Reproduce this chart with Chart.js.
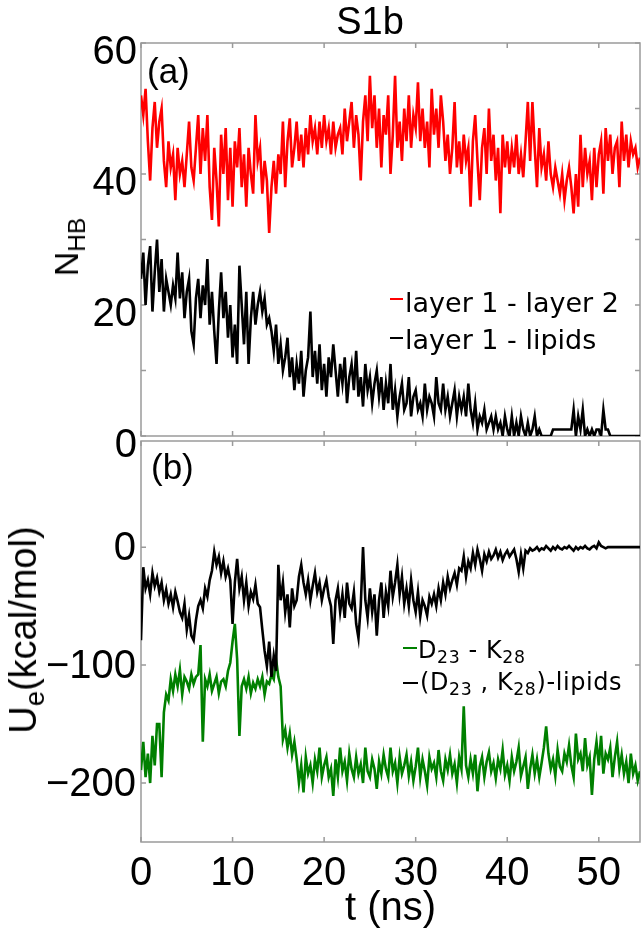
<!DOCTYPE html>
<html>
<head>
<meta charset="utf-8">
<script src="https://cdn.jsdelivr.net/npm/chart.js@4.4.1/dist/chart.umd.min.js"></script>
<style>
  html, body { margin: 0; padding: 0; background: #fff; }
  #fig { position: relative; width: 641px; height: 931px; overflow: hidden; font-family: "Liberation Sans", Arial, sans-serif; color: #000; }
  #fig canvas { position: absolute; left: 0; }
  .txt { position: absolute; line-height: 1; white-space: nowrap; }
  .leg { position: absolute; line-height: 1; white-space: nowrap; font-family: "DejaVu Sans", sans-serif; }
  .dash { position: absolute; height: 2px; }
  sub { font-size: 0.72em; vertical-align: -0.3em; line-height: 0; }
</style>
</head>
<body>
<div id="fig">
  <canvas id="topChart" width="641" height="470" style="top:0"></canvas>
  <canvas id="bottomChart" width="641" height="491" style="top:440px"></canvas>

  <div class="txt" style="left:370px;top:2px;font-size:38px;transform:translateX(-50%)">S1b</div>
  <div class="txt" style="left:147px;top:53px;font-size:35px">(a)</div>
  <div class="txt" style="left:151px;top:449px;font-size:35px">(b)</div>
  <div class="txt" style="left:66px;top:247px;font-size:34px;transform:translate(-50%,-50%) rotate(-90deg)">N<sub>HB</sub></div>
  <div class="txt" style="left:23px;top:630px;font-size:38px;transform:translate(-50%,-50%) rotate(-90deg)">U<sub>e</sub>(kcal/mol)</div>

  <div class="dash" style="left:390px;top:298px;width:13px;background:#ff0000"></div>
  <div class="leg" style="left:405px;top:289px;font-size:27px">layer 1 - layer 2</div>
  <div class="dash" style="left:390px;top:337px;width:13px;background:#000"></div>
  <div class="leg" style="left:405px;top:326px;font-size:27px">layer 1 - lipids</div>

  <div class="dash" style="left:403px;top:647px;width:14px;background:#008000"></div>
  <div class="leg" style="left:418px;top:638px;font-size:24px;letter-spacing:0.6px">D<sub>23</sub> - K<sub>28</sub></div>
  <div class="dash" style="left:403px;top:682px;width:15px;background:#000"></div>
  <div class="leg" style="left:420px;top:670px;font-size:24px;letter-spacing:0.6px">(D<sub>23</sub> , K<sub>28</sub>)-lipids</div>
</div>

<script>
// time axis (ns), one sample every 0.25 ns
const timeNs = [
  0, 0.25, 0.5, 0.75, 1, 1.25, 1.5, 1.75, 2, 2.25, 2.5, 2.75, 3, 3.25, 3.5, 3.75, 4, 4.25, 4.5, 4.75,
  5, 5.25, 5.5, 5.75, 6, 6.25, 6.5, 6.75, 7, 7.25, 7.5, 7.75, 8, 8.25, 8.5, 8.75, 9, 9.25, 9.5, 9.75,
  10, 10.25, 10.5, 10.75, 11, 11.25, 11.5, 11.75, 12, 12.25, 12.5, 12.75, 13, 13.25, 13.5, 13.75, 14, 14.25, 14.5, 14.75,
  15, 15.25, 15.5, 15.75, 16, 16.25, 16.5, 16.75, 17, 17.25, 17.5, 17.75, 18, 18.25, 18.5, 18.75, 19, 19.25, 19.5, 19.75,
  20, 20.25, 20.5, 20.75, 21, 21.25, 21.5, 21.75, 22, 22.25, 22.5, 22.75, 23, 23.25, 23.5, 23.75, 24, 24.25, 24.5, 24.75,
  25, 25.25, 25.5, 25.75, 26, 26.25, 26.5, 26.75, 27, 27.25, 27.5, 27.75, 28, 28.25, 28.5, 28.75, 29, 29.25, 29.5, 29.75,
  30, 30.25, 30.5, 30.75, 31, 31.25, 31.5, 31.75, 32, 32.25, 32.5, 32.75, 33, 33.25, 33.5, 33.75, 34, 34.25, 34.5, 34.75,
  35, 35.25, 35.5, 35.75, 36, 36.25, 36.5, 36.75, 37, 37.25, 37.5, 37.75, 38, 38.25, 38.5, 38.75, 39, 39.25, 39.5, 39.75,
  40, 40.25, 40.5, 40.75, 41, 41.25, 41.5, 41.75, 42, 42.25, 42.5, 42.75, 43, 43.25, 43.5, 43.75, 44, 44.25, 44.5, 44.75,
  45, 45.25, 45.5, 45.75, 46, 46.25, 46.5, 46.75, 47, 47.25, 47.5, 47.75, 48, 48.25, 48.5, 48.75, 49, 49.25, 49.5, 49.75,
  50, 50.25, 50.5, 50.75, 51, 51.25, 51.5, 51.75, 52, 52.25, 52.5, 52.75, 53, 53.25, 53.5, 53.75, 54, 54.25, 54.5
];

// (a) hydrogen bonds, layer 1 - layer 2
const hbLayer12 = [
  52, 49, 53, 45, 39, 47, 51, 44, 48, 50, 42, 38, 45, 41, 43, 36, 44, 40, 42, 38,
  43, 48, 41, 39, 44, 49, 40, 47, 42, 49, 38, 33, 44, 39, 32, 46, 40, 47, 36, 44,
  35, 45, 41, 47, 38, 43, 35, 44, 40, 37, 49, 42, 44, 37, 42, 39, 31, 38, 42, 37,
  43, 40, 48, 38, 45, 48.5, 41, 44, 48, 42, 46, 41, 47, 43, 49, 45, 47, 43, 48, 44,
  49, 45, 47, 43, 48, 44, 46, 47, 43, 50, 45, 48, 51, 44, 49, 46, 39, 48, 52, 45,
  55, 47, 52, 44, 50, 41, 49, 46, 52, 40, 46, 55, 44, 48, 42, 50, 45, 52, 44, 49,
  47, 54, 45, 50, 44, 48, 41, 53, 46, 50, 44, 52, 48, 42, 46, 40, 44, 51, 41, 45,
  40, 46, 42, 44, 35, 45, 49, 42, 36, 44, 47, 40, 50, 42, 46, 39, 44, 34, 46, 41,
  45, 40, 44, 41, 46, 40, 43, 39.5, 45, 51, 42, 51, 44, 38, 47, 41, 43, 39, 45, 40,
  38, 41, 39, 37, 40, 36, 39, 41, 38, 34, 40, 35, 46, 38, 44, 40, 42, 36, 44, 38,
  43, 45, 37, 47, 42, 46, 40, 44, 45, 38, 48, 42, 46, 41, 45, 43, 44, 41, 42.5
];

// (a) hydrogen bonds, layer 1 - lipids
const hbLayer1Lipids = [
  24, 28, 20, 26, 29, 19, 25, 30, 22, 27, 19, 24, 22, 20, 23, 21, 28, 21, 25, 18,
  22, 24, 16, 14, 21, 24, 18, 23, 20, 27, 17, 22, 16, 11, 19, 25, 18, 22, 15, 20,
  12, 17, 11, 26, 20, 14, 22, 11, 18, 22, 17, 20, 22, 19, 21, 17, 18, 16, 13, 17,
  11, 14, 10, 12, 15, 9, 12, 7, 11, 8, 13, 6, 10, 12, 19, 9, 13, 8, 14, 7,
  11, 6, 12, 9, 14, 10, 6, 11, 8, 12, 5, 9, 11, 7, 13, 6, 9, 4.5, 11, 7,
  9, 5, 8, 10, 6, 9, 4, 8, 5, 11, 4, 7, 3, 6, 8, 4, 5, 9, 3, 6,
  7, 4, 5, 3, 8, 4, 6, 5, 3, 9, 5, 4, 8, 4, 6, 3, 5, 7, 3, 6,
  4, 6, 3, 8, 4, 2, 5, 1, 3, 2, 4, 1, 2, 3, 1, 3, 1, 2, 0, 3,
  1, 0, 3, 0, 2, 0, 3, 1, 0, 2, 0, 1, 3, 0, 1, 0, 0, 0, 0, 0,
  1, 1, 1, 1, 1, 1, 1, 1, 1, 4, 0, 3, 1, 4, 0, 1, 0, 1, 0, 1,
  1, 0, 4, 1, 1, 0, 0, 0, 0, 0, 0, 0, 0, 0, 0, 0, 0, 0, 0
];

// (b) electrostatic energy, D23 - K28 (kcal/mol)
const ueD23K28 = [
  -189, -165, -195, -175, -200, -160, -185, -150, -150, -195, -140, -125, -130, -112, -122, -108, -118, -104, -125, -110,
  -114, -120, -108, -116, -110, -108, -83, -165, -112, -118, -108, -122, -116, -110, -124, -114, -112, -118, -105, -98,
  -80, -65, -95, -160, -118, -112, -120, -110, -124, -115, -120, -112, -118, -110, -125, -114, -116, -108, -112, -95,
  -110, -118, -163, -155, -170, -158, -176, -165, -180, -200, -185, -208, -178, -192, -185, -200, -180, -190, -170, -195,
  -185, -178, -195, -188, -211, -180, -195, -170, -190, -182, -198, -175, -188, -195, -178, -192, -184, -200, -170, -190,
  -195, -180, -188, -205, -182, -192, -176, -188, -195, -170, -190, -183, -200, -178, -192, -185, -176, -194, -182, -198,
  -186, -170, -195, -180, -190, -202, -178, -188, -183, -195, -172, -190, -198, -180, -189, -176, -192, -184, -200, -178,
  -188, -135, -185, -195, -180, -192, -176, -207, -186, -178, -195, -182, -174, -190, -183, -196, -180, -188, -172, -193,
  -185, -198, -178, -190, -182, -170, -194, -186, -178, -205, -188, -176, -192, -180, -195, -183, -170, -152, -175, -188,
  -180, -194, -172, -186, -190, -175, -182, -168, -185, -195, -158, -180, -175, -190, -162, -185, -178, -210, -180, -165,
  -185, -160, -192, -175, -180, -170, -195, -178, -165, -188, -176, -192, -182, -200, -175, -192, -185, -198, -190
];

// (b) electrostatic energy, (D23, K28) - lipids (kcal/mol)
const ueLipids = [
  -79, -17, -35, -28, -40, -22, -33, -26, -38, -30, -45, -36, -48, -40, -51, -38, -46, -55, -60, -48,
  -70, -58, -75, -79, -62, -50, -45, -52, -35, -42, -28, -20, -4, -15, -8, -22, -12, -25, -18, -28,
  -65, -30, -10, -35, -25, -45, -30, -50, -38, -44, -32, -48, -51, -70, -88, -101, -80, -110, -92, -105,
  -15, -45, -30, -55, -40, -68, -35, -50, -45, -25, -15, -30, -40, -28, -45, -33, -22, -38, -30, -45,
  -35, -28, -42, -50, -82, -45, -35, -55, -40, -60, -30, -48, -52, -38, -65, -77, -50, 0, -45, -60,
  -35, -55, -40, -75, -45, -30, -60, -38, -50, -20, -42, -30, -15, -40, -25, -48, -35, -50, -28, -45,
  -55, -38, -59, -45, -50, -58, -42, -48, -40, -50, -35, -45, -30, -40, -25, -35, -28, -22, -32, -18,
  -20, -8, -25, -12, -18, -5, -15, -2, -10, -20, -6, -12, -4, -10, -7, -2, -9, -4, -11, -6,
  -3, -8, -5, -2, -10, -21, -6, -18, -3, -5, -1, -3, -2, 0, -3, -1, -2, 1, -1, -3,
  0, -2, 1, -1, -2, 0, -1, 1, -1, -3, 0, -2, 0, -1, 1, -1, -2, 0, 1, -1,
  4, 1, 0, -1, 0, 0, 0, 0, 0, 0, 0, 0, 0, 0, 0, 0, 0, 0, 0
];

// tick values
const xTickValues = [0, 10, 20, 30, 40, 50];
const topYTicks = [0, 10, 20, 30, 40, 50, 60];
const bottomYTicks = [-200, -100, 0];

const tickFont = { family: "'Liberation Sans', Arial, sans-serif", size: 40 };

// Box around the plot area with MATLAB-style inward tick marks
const frameTicks = {
  id: 'frameTicks',
  beforeDatasetsDraw(chart) {
    const { ctx, chartArea: a, scales } = chart;
    const len = 5;
    ctx.save();
    ctx.strokeStyle = '#9a9a9a';
    ctx.lineWidth = 1.5;
    ctx.strokeRect(a.left, a.top, a.right - a.left, a.bottom - a.top);
    ctx.beginPath();
    scales.x.ticks.forEach(t => {
      const px = scales.x.getPixelForValue(t.value);
      ctx.moveTo(px, a.top); ctx.lineTo(px, a.top + len);
      ctx.moveTo(px, a.bottom); ctx.lineTo(px, a.bottom - len);
    });
    scales.y.ticks.forEach(t => {
      const py = scales.y.getPixelForValue(t.value);
      ctx.moveTo(a.left, py); ctx.lineTo(a.left + len, py);
      ctx.moveTo(a.right, py); ctx.lineTo(a.right - len, py);
    });
    ctx.stroke();
    ctx.restore();
  }
};

function makeLine(label, values, color, order) {
  return {
    label: label,
    data: values.map((v, i) => ({ x: timeNs[i], y: v })),
    borderColor: color,
    borderWidth: 2.6,
    pointRadius: 0,
    tension: 0,
    fill: false,
    order: order
  };
}

function noPadding(scale) {
  scale.paddingTop = 0;
  scale.paddingBottom = 0;
  scale.paddingLeft = 0;
  scale.paddingRight = 0;
}

function baseOptions(padding) {
  return {
    responsive: false,
    animation: false,
    layout: { padding: padding },
    plugins: { legend: { display: false }, tooltip: { enabled: false } },
    elements: { line: { borderJoinStyle: 'miter' } }
  };
}

// Panel (a)
const topOptions = baseOptions({ top: 43, right: 1, bottom: 34, left: 0 });
topOptions.scales = {
  x: {
    type: 'linear', min: 0, max: 54.5,
    grid: { display: false, drawTicks: false },
    border: { display: false },
    ticks: { display: false },
    afterBuildTicks: s => { s.ticks = xTickValues.map(v => ({ value: v })); },
    afterFit: s => { s.height = 0; noPadding(s); }
  },
  y: {
    type: 'linear', min: 0, max: 60,
    grid: { display: false, drawTicks: false },
    border: { display: false },
    afterBuildTicks: s => { s.ticks = topYTicks.map(v => ({ value: v })); },
    ticks: {
      font: tickFont, color: '#000', padding: 4, labelOffset: 10, autoSkip: false,
      callback: v => (v % 20 === 0 ? String(v) : '')
    },
    afterFit: s => { s.width = 141; noPadding(s); }
  }
};

new Chart(document.getElementById('topChart'), {
  type: 'line',
  data: {
    datasets: [
      makeLine('layer 1 - layer 2', hbLayer12, '#ff0000', 1),
      makeLine('layer 1 - lipids', hbLayer1Lipids, '#000000', 0)
    ]
  },
  options: topOptions,
  plugins: [frameTicks]
});

// Panel (b)
const bottomOptions = baseOptions({ top: 1, right: 1, bottom: 0, left: 0 });
bottomOptions.scales = {
  x: {
    type: 'linear', min: 0, max: 54.5,
    grid: { display: false, drawTicks: false },
    border: { display: false },
    afterBuildTicks: s => { s.ticks = xTickValues.map(v => ({ value: v })); },
    ticks: { font: tickFont, color: '#000', padding: 8, autoSkip: false, maxRotation: 0 },
    title: {
      display: true, text: 't (ns)', color: '#000',
      font: { family: tickFont.family, size: 40, lineHeight: 1 },
      padding: { top: 0, bottom: 2 }
    },
    afterFit: s => { s.height = 89; noPadding(s); }
  },
  y: {
    type: 'linear', min: -250, max: 90,
    grid: { display: false, drawTicks: false },
    border: { display: false },
    afterBuildTicks: s => { s.ticks = bottomYTicks.map(v => ({ value: v })); },
    ticks: {
      font: tickFont, color: '#000', padding: 5, labelOffset: 2, autoSkip: false,
      callback: v => (v < 0 ? '\u2212' + (-v) : String(v))
    },
    afterFit: s => { s.width = 141; noPadding(s); }
  }
};

new Chart(document.getElementById('bottomChart'), {
  type: 'line',
  data: {
    datasets: [
      makeLine('D23 - K28', ueD23K28, '#008000', 1),
      makeLine('(D23, K28)-lipids', ueLipids, '#000000', 0)
    ]
  },
  options: bottomOptions,
  plugins: [frameTicks]
});
</script>
</body>
</html>
